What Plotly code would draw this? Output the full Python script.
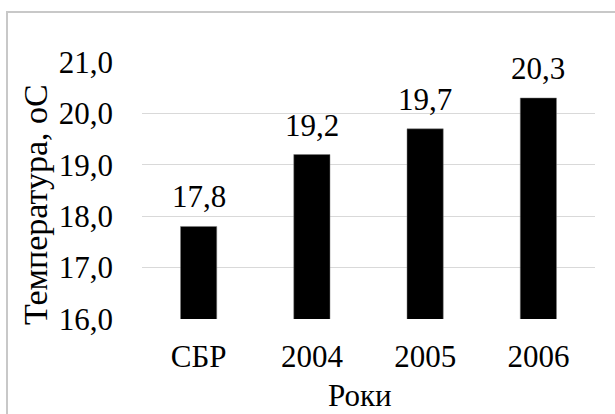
import plotly.graph_objects as go

# Temperature by period
categories = ["СБР", "2004", "2005", "2006"]
temperatures = [17.8, 19.2, 19.7, 20.3]
y_ticks = [16.0, 17.0, 18.0, 19.0, 20.0, 21.0]

FONT = "Liberation Serif, Times New Roman, serif"
FS = 31

W, H = 615, 414
L, R, T, B = 142, 20, 62, 95
pw, ph = W - L - R, H - T - B


def px_x(x):
    return (x - L) / pw


def px_y(y):
    return (H - B - y) / ph


fig = go.Figure()
fig.add_trace(go.Bar(
    x=categories,
    y=temperatures,
    marker=dict(color="#000000", line=dict(color="#7f7f7f", width=0.5)),
    hoverinfo="skip",
))

# value labels above the bars
for i, v in enumerate(temperatures):
    fig.add_annotation(
        x=i, y=v, xref="x", yref="y",
        text=f"{v:.1f}".replace(".", ","),
        showarrow=False, yanchor="bottom", yshift=10,
        font=dict(family=FONT, size=FS, color="#000000"),
    )

# axis titles
fig.add_annotation(
    x=px_x(35), y=px_y(205), xref="paper", yref="paper",
    xanchor="center", yanchor="middle",
    text="Температура, оС", textangle=-90, showarrow=False,
    font=dict(family=FONT, size=34, color="#000000"),
)
fig.add_annotation(
    x=px_x(360), y=px_y(395), xref="paper", yref="paper",
    xanchor="center", yanchor="middle",
    text="Роки", showarrow=False,
    font=dict(family=FONT, size=FS, color="#000000"),
)

# outer chart frame
fig.add_shape(
    type="rect", xref="paper", yref="paper",
    x0=px_x(7), x1=px_x(W + 10), y0=px_y(H + 10), y1=px_y(12),
    line=dict(color="#c8c8c8", width=2), fillcolor="rgba(0,0,0,0)",
    layer="below",
)

fig.update_layout(
    width=W, height=H,
    margin=dict(l=L, r=R, t=T, b=B, pad=0),
    paper_bgcolor="#ffffff", plot_bgcolor="#ffffff",
    separators=", ",
    showlegend=False,
    bargap=0.68,
    font=dict(family=FONT, size=FS, color="#000000"),
    xaxis=dict(
        type="category", categoryorder="array", categoryarray=categories,
        range=[-0.5, len(categories) - 0.5], autorange=False,
        showgrid=False, showline=False, ticks="",
        ticklabelstandoff=16,
        tickfont=dict(family=FONT, size=FS, color="#000000"),
    ),
    yaxis=dict(
        range=[16, 21], tickvals=y_ticks, tickformat=".1f",
        showgrid=True, gridcolor="#d9d9d9", gridwidth=1,
        zeroline=False, showline=False, ticks="",
        ticklabelstandoff=28,
        tickfont=dict(family=FONT, size=FS, color="#000000"),
    ),
)

fig.write_html("out.html")
